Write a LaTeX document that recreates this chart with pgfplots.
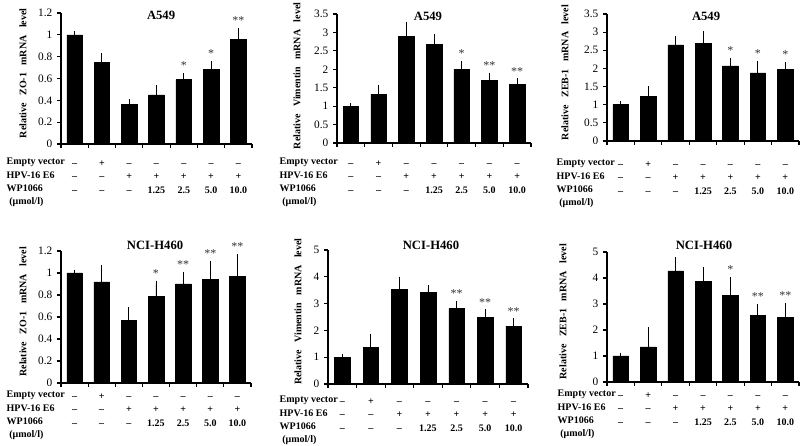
\documentclass[border=0pt]{standalone}
\usepackage{fontspec}
\setmainfont{Liberation Serif}
\usepackage{pgfplots}
\pgfplotsset{compat=1.18}
\usepackage{pgfplotstable}

\pgfplotstableread{
x y e s
0 1.00 0 {}
1 0.75 0.05 {}
2 0.36 0.02 {}
3 0.45 0.06 {}
4 0.59 0.03 *
5 0.68 0.05 *
6 0.96 0.07 **
}\zoA
\pgfplotstableread{
x y e s
0 1.00 0 {}
1 1.32 0.17 {}
2 2.90 0.30 {}
3 2.67 0.20 {}
4 2.00 0.13 *
5 1.70 0.10 **
6 1.58 0.08 **
}\vimA
\pgfplotstableread{
x y e s
0 1.00 0 {}
1 1.22 0.20 {}
2 2.65 0.15 {}
3 2.68 0.26 {}
4 2.07 0.13 *
5 1.88 0.23 *
6 1.98 0.10 *
}\zebA
\pgfplotstableread{
x y e s
0 1.00 0 {}
1 0.92 0.12 {}
2 0.57 0.09 {}
3 0.79 0.11 *
4 0.90 0.08 **
5 0.94 0.14 **
6 0.97 0.17 **
}\zoH
\pgfplotstableread{
x y e s
0 1.00 0 {}
1 1.37 0.38 {}
2 3.53 0.35 {}
3 3.42 0.13 {}
4 2.81 0.16 **
5 2.49 0.17 **
6 2.16 0.16 **
}\vimH
\pgfplotstableread{
x y e s
0 1.00 0 {}
1 1.35 0.63 {}
2 4.27 0.40 {}
3 3.87 0.42 {}
4 3.33 0.57 *
5 2.57 0.30 **
6 2.48 0.44 **
}\zebH

\newcommand{\tabfont}{\bfseries\fontsize{7.5}{10}\selectfont}
\newcommand{\rowlabels}{\strut Empty vector\\HPV-16 E6\\WP1066\\\hspace*{2pt}(μmol/l)}
\newcommand{\gap}{\hspace{0.75em}}

\pgfplotsset{
  panel/.style={
    scale only axis, anchor=south west, clip=false,
    xmin=-0.5, xmax=6.5, ymin=0,
    axis lines*=left, axis line style={-, line width=0.9pt},
    tick align=outside, tick pos=left,
    major tick length=3pt, minor tick length=3pt,
    tick style={line width=0.8pt, black},
    xtick={0,...,6}, minor xtick={-0.5,0.5,...,6.5},
    major x tick style={draw=none},
    /pgf/number format/assume math mode=true,
    yticklabel style={font=\fontsize{8.5}{10}\selectfont},
    xticklabel style={font=\tabfont, align=center, anchor=north},
    xticklabels={{\strut --\\--\\--},{\strut +\\--\\--},{\strut --\\+\\--},{\strut --\\+\\1.25},{\strut --\\+\\2.5},{\strut --\\+\\5.0},{\strut --\\+\\10.0}},
    title style={font=\bfseries\fontsize{9.5}{11}\selectfont, anchor=center},
    ylabel style={font=\bfseries\fontsize{7.5}{9}\selectfont, anchor=center},
  },
  bars/.style={ybar, bar width=11.7pt, fill=black, draw=black,
    error bars/.cd, y dir=plus, y explicit,
    error bar style={line width=0.7pt, black},
    error mark options={line width=0.7pt, mark size=2.6pt, black}},
  stars/.style={draw=none, mark=none, nodes near coords, point meta=explicit symbolic,
    every node near coord/.style={font=\fontsize{9}{9}\selectfont, anchor=south, yshift=1.5pt, black!80}},
}

\newcommand{\panel}[1]{%
  \addplot[bars] table[x=x, y=y, y error=e]{#1};
  \addplot[stars] table[x=x, y expr=\thisrow{y}+\thisrow{e}, meta=s]{#1};
}

\begin{document}
\begin{tikzpicture}
\path[use as bounding box] (0,0) rectangle (600pt,334.5pt);

% Panel 1: A549 ZO-1
\begin{axis}[panel, at={(45.75pt,226.5pt)}, width=143.25pt, height=98.25pt,
  ymax=1.2, ytick={0,0.2,0.4,0.6,0.8,1,1.2},
  title={A549}, title style={at={(axis description cs:0.524,1)}, yshift=-8pt},
  ylabel={Relative\gap ZO-1\gap mRNA\gap level},
  ylabel style={at={(axis description cs:-0.199,0.54)}},
  xticklabel style={yshift=-3.4pt}]
  \panel{\zoA}
  \node[anchor=north west, align=left, font=\tabfont, xshift=-44.25pt, yshift=-5.1pt] at (axis description cs:0,0) {\rowlabels};
\end{axis}

% Panel 2: A549 Vimentin
\begin{axis}[panel, at={(252.75pt,227.25pt)}, width=145.5pt, height=96.75pt,
  ymax=3.5, ytick={0,0.5,1,1.5,2,2.5,3,3.5},
  title={A549}, title style={at={(axis description cs:0.469,1)}, yshift=-8pt},
  ylabel={Relative\gap Vimentin\gap mRNA\gap level},
  ylabel style={at={(axis description cs:-0.206,0.52)}},
  xticklabel style={yshift=-4.2pt}]
  \panel{\vimA}
  \node[anchor=north west, align=left, font=\tabfont, xshift=-46.5pt, yshift=-5.9pt] at (axis description cs:0,0) {\rowlabels};
\end{axis}

% Panel 3: A549 ZEB-1
\begin{axis}[panel, at={(455.25pt,228.75pt)}, width=144pt, height=95.25pt,
  ymax=3.5, ytick={0,0.5,1,1.5,2,2.5,3,3.5},
  title={A549}, title style={at={(axis description cs:0.516,1)}, yshift=-8pt},
  ylabel={Relative\gap ZEB-1\gap mRNA\gap level},
  ylabel style={at={(axis description cs:-0.219,0.54)}},
  xticklabel style={yshift=-6.4pt}]
  \panel{\zebA}
  \node[anchor=north west, align=left, font=\tabfont, xshift=-41.25pt, yshift=-8.1pt] at (axis description cs:0,0) {\rowlabels};
\end{axis}

% Panel 4: NCI-H460 ZO-1
\begin{axis}[panel, at={(45.75pt,47.25pt)}, width=142.5pt, height=99pt,
  ymax=1.2, ytick={0,0.2,0.4,0.6,0.8,1,1.2},
  title={NCI-H460}, title style={at={(axis description cs:0.495,1)}, yshift=-1.5pt},
  ylabel={Relative\gap ZO-1\gap mRNA\gap level},
  ylabel style={at={(axis description cs:-0.2,0.54)}},
  xticklabel style={yshift=1.1pt}]
  \panel{\zoH}
  \node[anchor=north west, align=left, font=\tabfont, xshift=-44.25pt, yshift=-0.6pt] at (axis description cs:0,0) {\rowlabels};
\end{axis}

% Panel 5: NCI-H460 Vimentin
\begin{axis}[panel, at={(246pt,46.5pt)}, width=150pt, height=100.5pt,
  ymax=5, ytick={0,1,2,3,4,5},
  title={NCI-H460}, title style={at={(axis description cs:0.515,1)}, yshift=-2.25pt},
  ylabel={Relative\gap Vimentin\gap mRNA\gap level},
  ylabel style={at={(axis description cs:-0.15,0.54)}},
  xticklabel style={yshift=-1.9pt}]
  \panel{\vimH}
  \node[anchor=north west, align=left, font=\tabfont, xshift=-39.75pt, yshift=-3.6pt] at (axis description cs:0,0) {\rowlabels};
\end{axis}

% Panel 6: NCI-H460 ZEB-1
\begin{axis}[panel, at={(455.25pt,48pt)}, width=144pt, height=97.5pt,
  ymax=5, ytick={0,1,2,3,4,5},
  title={NCI-H460}, title style={at={(axis description cs:0.505,1)}, yshift=-0.75pt},
  ylabel={Relative\gap ZEB-1\gap mRNA\gap level},
  ylabel style={at={(axis description cs:-0.229,0.54)}},
  xticklabel style={yshift=1.1pt}]
  \panel{\zebH}
  \node[anchor=north west, align=left, font=\tabfont, xshift=-40.5pt, yshift=-0.6pt] at (axis description cs:0,0) {\rowlabels};
\end{axis}
\end{tikzpicture}
\end{document}
